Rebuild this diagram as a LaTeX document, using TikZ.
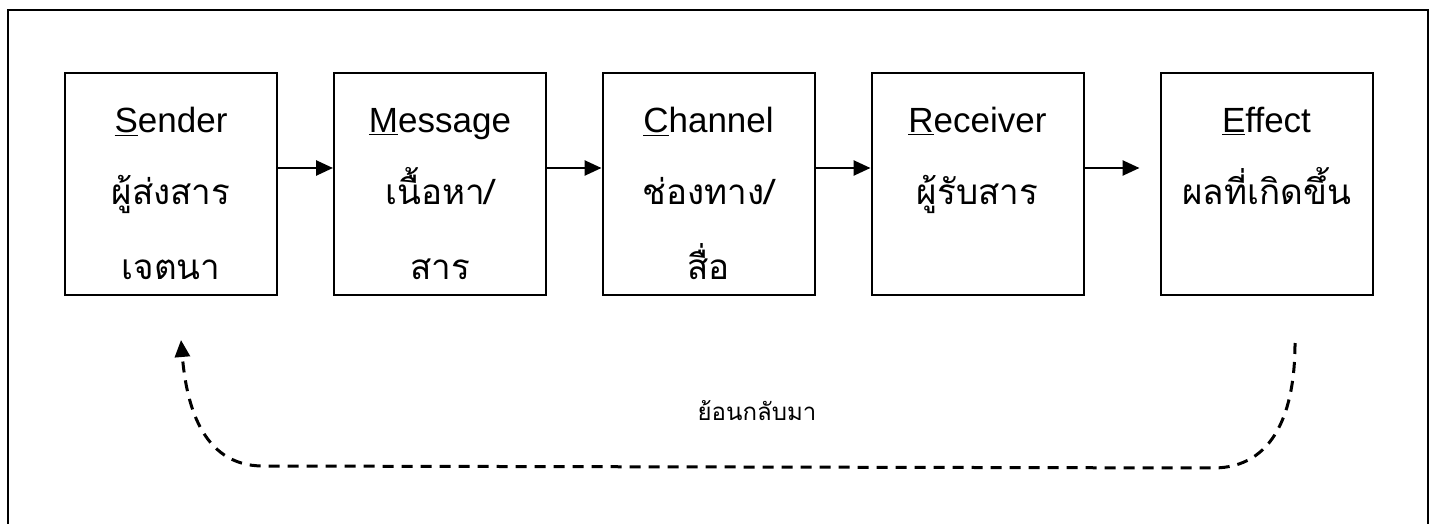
\documentclass[tikz,border=0pt]{standalone}
\usepackage{fontspec}
\setmainfont{Liberation Sans}
\newfontfamily\thai[Script=Thai]{Loma}
\usetikzlibrary{arrows.meta,calc}
\begin{document}
\begin{tikzpicture}[x=1bp,y=-1bp,
  box/.style={draw,line width=2bp,minimum width=212bp,minimum height=222bp,inner sep=0pt},
  lat/.style={anchor=base,inner sep=0pt,font=\fontsize{35bp}{40bp}\selectfont},
  th/.style={anchor=base,inner sep=0pt,font=\thai\fontsize{35bp}{40bp}\selectfont},
  fbl/.style={anchor=base,inner sep=0pt,font=\thai\fontsize{24bp}{30bp}\selectfont},
  flow/.style={line width=2.6bp,-{Triangle[length=17bp,width=15bp]}},
  fb/.style={line width=3bp,dash pattern=on 11bp off 8bp,-{Triangle[length=17bp,width=15bp]}}]
\useasboundingbox (0,0) rectangle (1435,524);
\clip (0,0) rectangle (1435,524);
\fill[white] (0,0) rectangle (1435,524);
% outer frame (bottom edge outside the picture)
\draw[line width=2bp] (8,540) -- (8,10) -- (1428,10) -- (1428,540);
% boxes
\node[box] (s) at (171,184) {};
\node[box] (m) at (440,184) {};
\node[box] (c) at (708.5,184) {};
\node[box] (r) at (977.5,184) {};
\node[box] (e) at (1266.5,184) {};
% texts
\node[lat] (s1) at (171,133) {\underline{S}ender};
\node[th]  (s2) at (171,205) {ผู้ส่งสาร};
\node[th]  (s3) at (171,280) {เจตนา};
\node[lat] (m1) at (440,133) {\underline{M}essage};
\node[th]  (m2) at (440,205) {เนื้อหา/};
\node[th]  (m3) at (440,280) {สาร};
\node[lat] (c1) at (708.5,133) {\underline{C}hannel};
\node[th]  (c2) at (708.5,205) {ช่องทาง/};
\node[th]  (c3) at (708.5,280) {สื่อ};
\node[lat] (r1) at (977.5,133) {\underline{R}eceiver};
\node[th]  (r2) at (977.5,205) {ผู้รับสาร};
\node[lat] (e1) at (1266.5,133) {\underline{E}ffect};
\node[th]  (e2) at (1266.5,205) {ผลที่เกิดขึ้น};
% arrows
\coordinate (ay) at (0,168);
\draw[flow] (s.east |- ay) -- (m.west |- ay);
\draw[flow] (m.east |- ay) -- (c.west |- ay);
\draw[flow] (c.east |- ay) -- (r.west |- ay);
\coordinate (ea) at ($(e.west |- ay)+(-20,0)$);
\draw[flow] (r.east |- ay) -- (ea);
% feedback
\coordinate (fbs) at (1295,343);
\coordinate (fbe) at (181,340);
\draw[fb] (fbs) .. controls (1295,410) and (1275,468) .. (1213,468)
  -- (263,466) .. controls (200,466) and (186,400) .. (fbe);
\node[fbl] (fbt) at (757,420) {ย้อนกลับมา};
\end{tikzpicture}
\end{document}
